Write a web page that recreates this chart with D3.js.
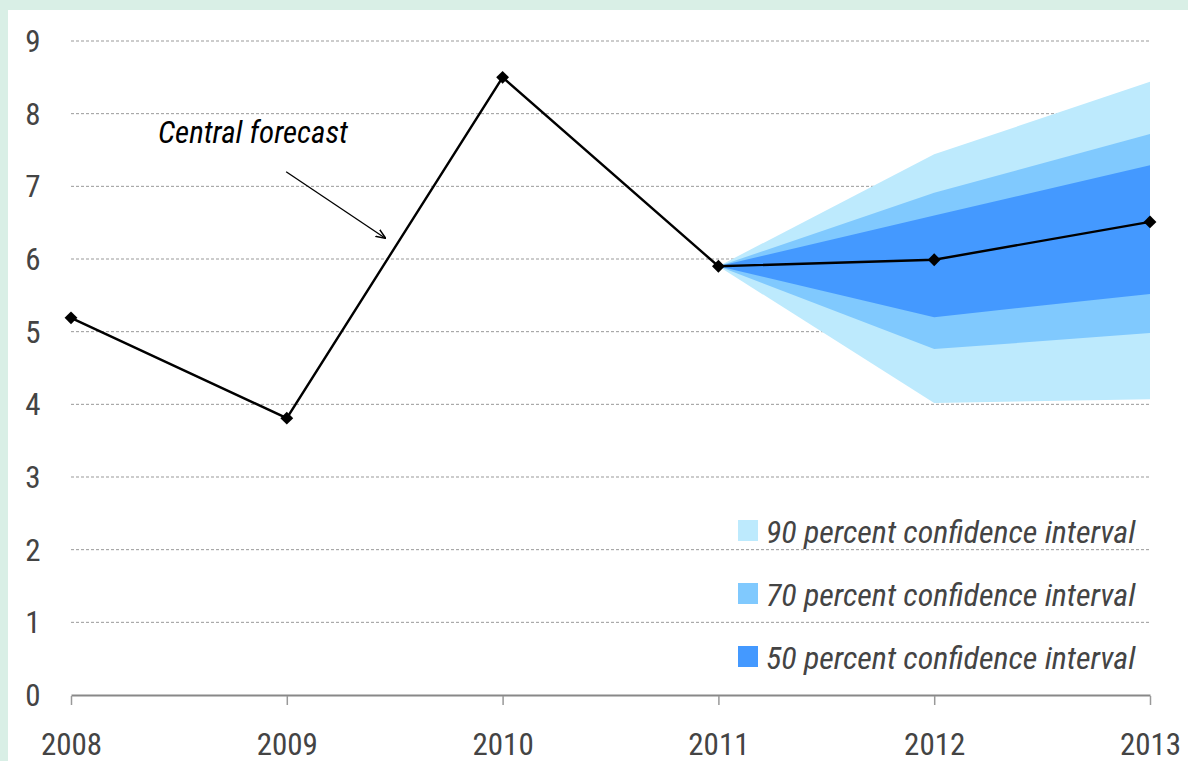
<!DOCTYPE html>
<html>
<head>
<meta charset="utf-8">
<script src="https://cdn.jsdelivr.net/npm/d3@7"></script>
<style>
  body { margin: 0; background: #d9efe6; }
  svg { display: block; }
  text { font-family: "Roboto Condensed", "Liberation Sans Narrow", "DejaVu Sans Condensed", sans-serif; }
</style>
</head>
<body>
<script>
// data
var years = [2008, 2009, 2010, 2011, 2012, 2013];
var central = [5.19, 3.81, 8.50, 5.90, 5.99, 6.51];

var fanYears = [2011, 2012, 2013];
var upper90 = [5.90, 7.44, 8.44];
var upper70 = [5.90, 6.91, 7.72];
var upper50 = [5.90, 6.60, 7.29];
var lower50 = [5.90, 5.20, 5.52];
var lower70 = [5.90, 4.76, 4.98];
var lower90 = [5.90, 4.02, 4.07];

var yTicks = [0, 1, 2, 3, 4, 5, 6, 7, 8, 9];
var legendLabels = ["90 percent confidence interval", "70 percent confidence interval", "50 percent confidence interval"];
var bandColors = ["#bdeafd", "#80c9fe", "#4499ff"];

var width = 1188, height = 761;
var margin = {top: 41, right: 38, bottom: 66, left: 71};

var svg = d3.select("body").append("svg")
    .attr("width", width)
    .attr("height", height)

svg.append("rect")
    .attr("x", 8).attr("y", 10)
    .attr("width", width - 8).attr("height", height - 10)
    .attr("fill", "#fff")

var x = d3.scaleLinear()
    .domain([2008, 2013])
    .range([margin.left, width - margin.right]);

var y = d3.scaleLinear()
    .domain([0, 9])
    .range([height - margin.bottom, margin.top]);

// grid
svg.append("g")
    .selectAll("line")
    .data(yTicks.filter(d => d > 0))
    .join("line")
    .attr("x1", x(2008)).attr("x2", x(2013))
    .attr("y1", d => y(d)).attr("y2", d => y(d))
    .attr("stroke", "#999")
    .attr("stroke-width", 1)
    .attr("stroke-dasharray", "3,2")

// y labels
svg.append("g")
    .selectAll("text")
    .data(yTicks)
    .join("text")
    .attr("x", 33)
    .attr("y", d => y(d) + 11)
    .attr("text-anchor", "middle")
    .attr("fill", "#444")
    .style("font-size", "31px")
    .text(d => d)

// fan bands
var bands = [
  {lo: lower90, hi: upper90, c: bandColors[0]},
  {lo: lower70, hi: upper70, c: bandColors[1]},
  {lo: lower50, hi: upper50, c: bandColors[2]}
];
var area = d3.area()
    .x((d, i) => x(fanYears[i]))
    .y0(d => y(d[0]))
    .y1(d => y(d[1]));

svg.append("g")
    .selectAll("path")
    .data(bands)
    .join("path")
    .attr("d", b => area(b.lo.map((v, i) => [v, b.hi[i]])))
    .attr("fill", b => b.c)

// x axis
var xAxis = d3.axisBottom(x)
    .tickValues(years)
    .tickFormat(d3.format("d"))
    .tickSize(10)
    .tickSizeOuter(0)

var gx = svg.append("g")
    .attr("transform", `translate(0, ${y(0)})`)
    .call(xAxis)
gx.select(".domain").attr("stroke", "#888").attr("stroke-width", 2)
gx.selectAll(".tick line").attr("stroke", "#999").attr("stroke-width", 1.5).attr("y1", 1)
gx.selectAll(".tick text")
    .attr("dy", null)
    .attr("y", 60)
    .attr("fill", "#444")
    .style("font-size", "31px")

// central line
var line = d3.line()
    .x((d, i) => x(years[i]))
    .y(d => y(d));

svg.append("path")
    .datum(central)
    .attr("d", line)
    .attr("fill", "none")
    .attr("stroke", "#000")
    .attr("stroke-width", 2.4)

svg.append("g")
    .selectAll("path")
    .data(central)
    .join("path")
    .attr("d", d3.symbol(d3.symbolDiamond2, 105))
    .attr("transform", (d, i) => `translate(${x(years[i])}, ${y(d)})`)
    .attr("fill", "#000")

// annotation
svg.append("defs").append("marker")
    .attr("id", "arr")
    .attr("viewBox", "0 0 10 10")
    .attr("refX", 9).attr("refY", 5)
    .attr("markerWidth", 10).attr("markerHeight", 10)
    .attr("markerUnits", "userSpaceOnUse")
    .attr("orient", "auto")
    .append("path")
    .attr("d", "M0,1 L10,5 L0,9")
    .attr("fill", "none")
    .attr("stroke", "#000")
    .attr("stroke-width", 1.5)

svg.append("text")
    .attr("x", 158)
    .attr("y", 143)
    .attr("fill", "#000")
    .style("font-size", "31px")
    .style("font-style", "italic")
    .text("Central forecast")

svg.append("line")
    .attr("x1", x(2008.997)).attr("y1", y(7.2))
    .attr("x2", x(2009.455)).attr("y2", y(6.29))
    .attr("stroke", "#000")
    .attr("stroke-width", 1.3)
    .attr("marker-end", "url(#arr)")

// legend
var legend = svg.append("g")
    .selectAll("g")
    .data(legendLabels)
    .join("g")
    .attr("transform", (d, i) => `translate(738, ${520 + i * 63})`)

legend.append("rect")
    .attr("width", 20).attr("height", 21)
    .attr("fill", (d, i) => bandColors[i])

legend.append("text")
    .attr("x", 28)
    .attr("y", 23)
    .attr("fill", "#444")
    .style("font-size", "32px")
    .style("font-style", "italic")
    .text(d => d)
</script>
</body>
</html>
